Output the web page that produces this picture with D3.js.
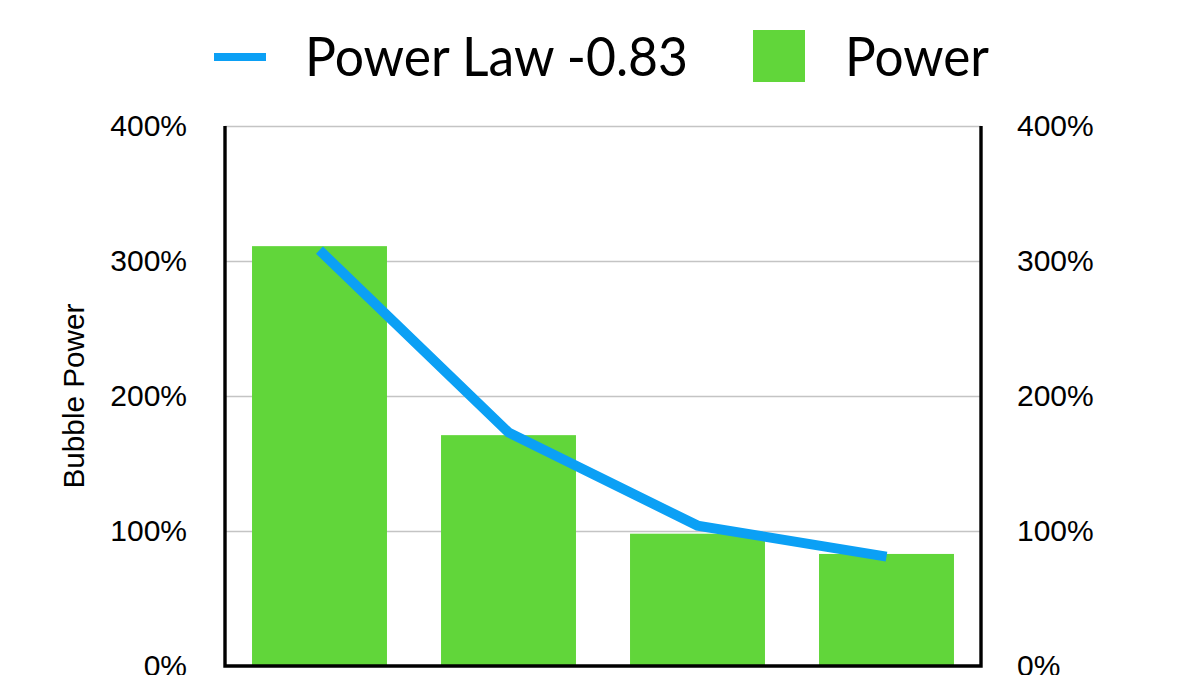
<!DOCTYPE html>
<html><head><meta charset="utf-8">
<script src="https://cdn.jsdelivr.net/npm/d3@7"></script>
<style>html,body{margin:0;padding:0;background:#fff;overflow:hidden}</style>
</head><body><svg id="c" width="1192" height="675"></svg>
<script>
const categories = ["1", "2", "3", "4"];
const powerValues = [311, 171, 98, 83];
const powerLawValues = [308, 173, 104, 81];
const yTickValues = [0, 100, 200, 300, 400];
const legendLabels = ["Power Law -0.83", "Power"];
const axisTitle = "Bubble Power";

const blue = "#0ba0f5", green = "#61d63a";
const m = {left: 225, right: 981, top: 126, bottom: 666};
const svg = d3.select("#c");
const x = d3.scaleBand().domain(categories).range([m.left, m.right]).paddingInner(0.286).paddingOuter(0.143);
const y = d3.scaleLinear().domain([0, 400]).range([m.bottom, m.top]);

// gridlines
const grid = svg.append("g").attr("transform", `translate(${m.left},0)`)
  .call(d3.axisRight(y).tickValues(yTickValues.filter(d => d > 0)).tickSize(m.right - m.left).tickFormat(""));
grid.select(".domain").remove();
grid.selectAll("line").attr("stroke", "#c4c4c4").attr("stroke-width", 1.3);

// bars
svg.append("g").selectAll("rect").data(categories).join("rect")
  .attr("x", d => x(d)).attr("width", x.bandwidth())
  .attr("y", (d, i) => y(powerValues[i])).attr("height", (d, i) => y(0) - y(powerValues[i]))
  .attr("fill", green);

// line
const line = d3.line().x(d => x(d.c) + x.bandwidth() / 2).y(d => y(d.v));
svg.append("path").datum(categories.map((c, i) => ({c, v: powerLawValues[i]})))
  .attr("d", line).attr("fill", "none").attr("stroke", blue).attr("stroke-width", 10)
  .attr("stroke-linejoin", "miter").attr("stroke-linecap", "butt");

// frame lines
const frame = svg.append("g").attr("stroke", "#000").attr("stroke-width", 3.4).attr("fill", "none");
frame.append("path").attr("d", `M${m.left},${y(400)}V${y(0)}H${m.right}V${y(400)}`);

// axes labels
function styleAxis(g) {
  g.select(".domain").remove();
  g.selectAll("text").attr("font-family", "'Liberation Sans', Arial, Helvetica, sans-serif")
    .attr("font-size", 30).attr("fill", "#000");
}
svg.append("g").attr("transform", `translate(${m.left},0)`)
  .call(d3.axisLeft(y).tickValues(yTickValues).tickFormat(d => d + "%").tickSize(0).tickPadding(38))
  .call(styleAxis);
svg.append("g").attr("transform", `translate(${m.right},0)`)
  .call(d3.axisRight(y).tickValues(yTickValues).tickFormat(d => d + "%").tickSize(0).tickPadding(36))
  .call(styleAxis);

// axis title
svg.append("text").attr("transform", `translate(84,${(y(400) + y(0)) / 2}) rotate(-90)`)
  .attr("text-anchor", "middle").attr("font-family", "'Liberation Sans', Arial, sans-serif")
  .attr("font-size", 29).attr("fill", "#000")
  .attr("textLength", 185).attr("lengthAdjust", "spacingAndGlyphs").text(axisTitle);

// legend
const lg = svg.append("g");
lg.append("line").attr("x1", 214).attr("x2", 266).attr("y1", 57).attr("y2", 57)
  .attr("stroke", blue).attr("stroke-width", 8);
lg.append("text").attr("x", 305).attr("y", 76).attr("font-family", "Lato, sans-serif")
  .attr("font-size", 55).attr("fill", "#000").attr("textLength", 383).attr("lengthAdjust", "spacingAndGlyphs")
  .text(legendLabels[0]);
lg.append("rect").attr("x", 753).attr("y", 30).attr("width", 52).attr("height", 52).attr("fill", green);
lg.append("text").attr("x", 845).attr("y", 76).attr("font-family", "Lato, sans-serif")
  .attr("font-size", 55).attr("fill", "#000").attr("textLength", 144).attr("lengthAdjust", "spacingAndGlyphs")
  .text(legendLabels[1]);
</script></body></html>
